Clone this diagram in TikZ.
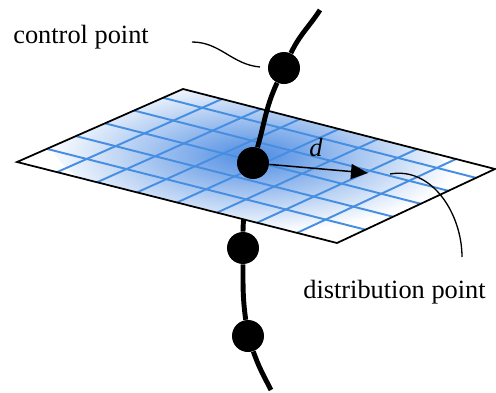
\documentclass[tikz,border=0pt]{standalone}
\usepackage{fontspec}
\setmainfont{Liberation Serif}
\usetikzlibrary{arrows.meta, calc, positioning}
\definecolor{gridblue}{RGB}{70,142,226}
\definecolor{shadeblue}{RGB}{78,140,226}

\begin{document}
\begin{tikzpicture}[
        dot/.style={circle, fill=black, inner sep=0pt, minimum size=6.4mm},
        curve/.style={line width=2.8pt},
        gridline/.style={gridblue, line width=1.1pt},
        leader/.style={line width=0.75pt},
        label/.style={font=\fontsize{15}{18}\selectfont, inner sep=0pt}]
    \useasboundingbox (0,0) rectangle (9.92,7.84);
    % corners of the plane
    \coordinate (L) at (0.34,4.60);
    \coordinate (T) at (3.66,6.06);
    \coordinate (R) at (9.90,4.46);
    \coordinate (B) at (6.74,2.98);

    % lower part of the curve, behind the plane
    \node[dot] (cp2) at (4.86,2.88) {};
    \node[dot] (cp3) at (4.96,1.12) {};
    \coordinate (under) at (4.92,3.94);
    \coordinate (bottom) at (5.42,0.04);
    \draw[curve] (under) to[out=268,in=90] (cp2)
        to[out=270,in=98] (cp3) to[out=289,in=117] (bottom);

    % the plane with its distribution
    \fill[white] (L) -- (T) -- (R) -- (B) -- cycle;
    \begin{scope}
        \clip (L) -- (T) -- (R) -- (B) -- cycle;
        \shade[inner color=shadeblue, outer color=white, rotate around={-8:(5.06,4.58)}]
            (5.06,4.58) ellipse (4.1 and 1.4);
    \end{scope}
    \foreach \k in {1,...,7}
        \draw[gridline] ($(L)!{\k/8}!(B)$) -- ($(T)!{\k/8}!(R)$);
    \foreach \v in {0.18,0.355,0.53,0.705,0.88}
        \draw[gridline] ($(L)!\v!(T)$) -- ($(B)!\v!(R)$);
    \draw[line width=1pt, line join=miter] (L) -- (T) -- (R) -- (B) -- cycle;

    % upper part of the curve
    \node[dot] (ctr) at (5.06,4.58) {};
    \node[dot] (cp1) at (5.68,6.48) {};
    \coordinate (top) at (6.40,7.64);
    \draw[curve] (top) to[out=237,in=65] (cp1) to[out=245,in=74] (ctr);

    \coordinate (tip) at (7.36,4.38);
    \draw[line width=0.85pt, -{Triangle[length=3.4mm,width=3mm]}] (ctr) -- (tip);
    \node[inner sep=0pt] (dlabel) at (6.32,4.90) {\fontsize{15}{18}\selectfont\textit{d}};

    % labels
    \node[label, anchor=base west] (ctext) at (0.26,6.98) {control point};
    \node[label, anchor=base west] (dtext) at (6.06,1.88) {distribution point};
    \coordinate (cfrom) at (3.84,7.00);
    \coordinate (cto) at (5.20,6.50);
    \draw[leader] (cfrom) to[out=0,in=175] (cto);
    \coordinate (dfrom) at (7.80,4.36);
    \coordinate (dto) at (9.24,2.70);
    \draw[leader] (dfrom) to[out=10,in=90] (dto);
\end{tikzpicture}
\end{document}
